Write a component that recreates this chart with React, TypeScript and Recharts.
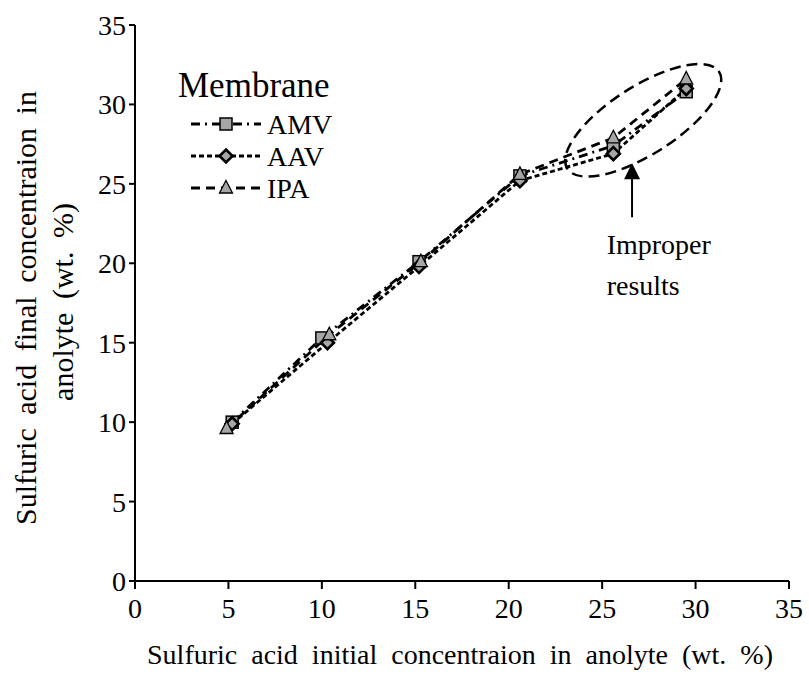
import React from 'react';
import { LineChart, Line, XAxis, YAxis, ReferenceDot, ReferenceLine, Customized } from 'recharts';

const axisTicks = [0, 5, 10, 15, 20, 25, 30, 35];
const seriesNames = ['AMV', 'AAV', 'IPA'];
const amvX = [5.2, 10.0, 15.2, 20.6, 25.6, 29.5];
const amvY = [10.0, 15.3, 20.1, 25.5, 27.4, 30.8];
const aavX = [5.2, 10.3, 15.2, 20.6, 25.6, 29.5];
const aavY = [9.9, 15.0, 19.8, 25.2, 26.9, 31.0];
const ipaX = [4.9, 10.4, 15.3, 20.6, 25.6, 29.5];
const ipaY = [9.6, 15.5, 20.1, 25.6, 27.9, 31.6];
const ellipseCenter = { x: 27.2, y: 29.0 };
const arrowTip = { x: 26.6, y: 26.3 };
const arrowBase = { x: 26.6, y: 22.9 };
const noteAnchor = { x: 25.24, y: 20.6 };
const noteLines = ['Improper', 'results'];
const xTitle = 'Sulfuric acid initial concentraion in anolyte (wt. %)';
const yTitleLines = ['Sulfuric acid final concentraion in', 'anolyte (wt. %)'];
const legendTitle = 'Membrane';

const build = (xs: number[], ys: number[]) => xs.map((x, i) => ({ x, y: ys[i] }));
const amvData = build(amvX, amvY);
const aavData = build(aavX, aavY);
const ipaData = build(ipaX, ipaY);

const FONT = '"Liberation Serif", "Times New Roman", serif';
const GREY = '#a6a6a6';

const drawSquare = (cx: number, cy: number, k?: any) => (
  <rect key={k} x={cx - 6} y={cy - 6} width={12} height={12} fill={GREY} stroke="#000" strokeWidth={1.5} />
);
const drawDiamond = (cx: number, cy: number, k?: any) => (
  <polygon key={k} points={`${cx},${cy - 6.5} ${cx + 6.5},${cy} ${cx},${cy + 6.5} ${cx - 6.5},${cy}`} fill={GREY} stroke="#000" strokeWidth={2.6} />
);
const drawTriangle = (cx: number, cy: number, k?: any) => (
  <polygon key={k} points={`${cx},${cy - 7.5} ${cx + 6.5},${cy + 5} ${cx - 6.5},${cy + 5}`} fill={GREY} stroke="#000" strokeWidth={1.3} />
);

const SquareDot = (p: any) => (p.cx == null ? <g key={p.index} /> : drawSquare(p.cx, p.cy, `s${p.index}`));
const DiamondDot = (p: any) => (p.cx == null ? <g key={p.index} /> : drawDiamond(p.cx, p.cy, `d${p.index}`));
const TriangleDot = (p: any) => (p.cx == null ? <g key={p.index} /> : drawTriangle(p.cx, p.cy, `t${p.index}`));

const dashes = ['9 5 2 5', '5 3', '9 6'];

const LegendBox = () => {
  const rows = [134, 166, 198];
  const markers = [drawSquare, drawDiamond, drawTriangle];
  return (
    <g fontFamily={FONT}>
      <text x={178} y={97} fontSize={35} fill="#000">{legendTitle}</text>
      {seriesNames.map((n, i) => (
        <g key={n}>
          <line x1={191} x2={261} y1={rows[i] - 10} y2={rows[i] - 10} stroke="#000" strokeWidth={2.8} strokeDasharray={dashes[i]} />
          {markers[i](226, rows[i] - 10)}
          <text x={267} y={rows[i]} fontSize={28} fill="#000">{n}</text>
        </g>
      ))}
    </g>
  );
};

const YTitle = () => (
  <g fontFamily={FONT} fontSize={30} fill="#000">
    <text x={36} y={308} textAnchor="middle" transform="rotate(-90 36 308)" style={{ wordSpacing: 6 }}>{yTitleLines[0]}</text>
    <text x={73} y={302} textAnchor="middle" transform="rotate(-90 73 302)" style={{ wordSpacing: 6 }}>{yTitleLines[1]}</text>
  </g>
);

const XTitle = () => (
  <text x={460} y={664} textAnchor="middle" fontFamily={FONT} fontSize={28} fill="#000" style={{ wordSpacing: 7 }}>{xTitle}</text>
);

const EllipseShape = (p: any) => (
  <ellipse cx={p.cx} cy={p.cy} rx={90} ry={34} transform={`rotate(-32.6 ${p.cx} ${p.cy})`} fill="none" stroke="#000" strokeWidth={2.5} strokeDasharray="11 6" />
);
const ArrowHead = (p: any) => (
  <polygon points={`${p.cx},${p.cy} ${p.cx + 8},${p.cy + 16} ${p.cx - 8},${p.cy + 16}`} fill="#000" />
);
const NoteShape = (p: any) => (
  <text x={p.cx} y={p.cy} fontFamily={FONT} fontSize={28} fill="#000">
    <tspan x={p.cx} dy={0}>{noteLines[0]}</tspan>
    <tspan x={p.cx} dy={41}>{noteLines[1]}</tspan>
  </text>
);

const tickStyle = { fontFamily: FONT, fontSize: 28, fill: '#000' };

export default function App() {
  return (
    <div style={{ position: 'absolute', left: 0, top: 0, width: 809, height: 682, background: '#fff' }}>
      <LineChart width={809} height={682} margin={{ top: 25, right: 20, left: 0, bottom: 0 }}>
        <XAxis
          type="number"
          dataKey="x"
          domain={[0, 35]}
          ticks={axisTicks}
          allowDataOverflow
          height={101}
          tickSize={8}
          tickMargin={9}
          tick={tickStyle}
          axisLine={{ stroke: '#000', strokeWidth: 2 }}
          tickLine={{ stroke: '#000', strokeWidth: 2 }}
        />
        <YAxis
          type="number"
          dataKey="y"
          domain={[0, 35]}
          ticks={axisTicks}
          allowDataOverflow
          width={135}
          tickSize={6}
          tickMargin={3}
          tick={tickStyle}
          axisLine={{ stroke: '#000', strokeWidth: 2 }}
          tickLine={{ stroke: '#000', strokeWidth: 2 }}
        />
        <ReferenceDot x={ellipseCenter.x} y={ellipseCenter.y} r={1} shape={EllipseShape} ifOverflow="visible" />
        <Line data={amvData} dataKey="y" type="linear" stroke="#000" strokeWidth={2.8} strokeDasharray={dashes[0]} dot={SquareDot} activeDot={false} isAnimationActive={false} />
        <Line data={aavData} dataKey="y" type="linear" stroke="#000" strokeWidth={2.8} strokeDasharray={dashes[1]} dot={DiamondDot} activeDot={false} isAnimationActive={false} />
        <Line data={ipaData} dataKey="y" type="linear" stroke="#000" strokeWidth={2.8} strokeDasharray={dashes[2]} dot={TriangleDot} activeDot={false} isAnimationActive={false} />
        <ReferenceLine segment={[arrowBase, { x: arrowTip.x, y: arrowTip.y - 0.8 }]} stroke="#000" strokeWidth={2} ifOverflow="visible" />
        <ReferenceDot x={arrowTip.x} y={arrowTip.y} r={1} shape={ArrowHead} ifOverflow="visible" />
        <ReferenceDot x={noteAnchor.x} y={noteAnchor.y} r={1} shape={NoteShape} ifOverflow="visible" />
        <Customized component={LegendBox} />
        <Customized component={YTitle} />
        <Customized component={XTitle} />
      </LineChart>
    </div>
  );
}
